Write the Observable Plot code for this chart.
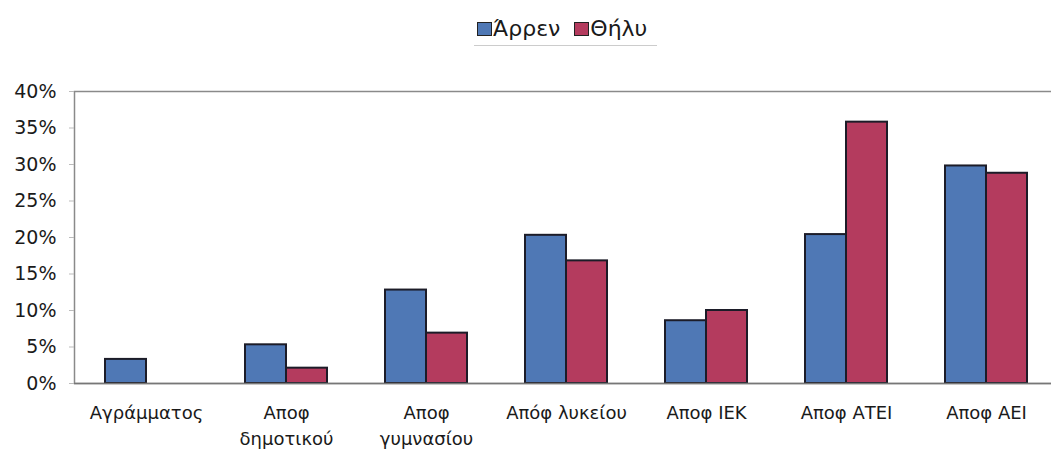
<!DOCTYPE html>
<html>
<head>
<meta charset="utf-8">
<script src="https://cdn.jsdelivr.net/npm/d3@7"></script>
<script src="https://cdn.jsdelivr.net/npm/@observablehq/plot@0.6"></script>
<style>
  html, body { margin: 0; padding: 0; background: #fff; }
  body { width: 1051px; height: 453px; overflow: hidden; font-family: "DejaVu Sans", sans-serif; }
  #legend { height: 55px; position: relative; }
  #legend .box { position: absolute; left: 474px; top: 14px; display: flex; align-items: center; font-size: 22px; color: #1a1a1a; padding: 2px 10px 4px 3px; border-bottom: 1px solid #ccc; }
  #legend .sw { display: inline-block; width: 15px; height: 14px; border: 1.5px solid #222; box-sizing: border-box; margin-right: 1px; }
  #legend .item { display: flex; align-items: center; margin-right: 14px; }
  #legend .item:last-child { margin-right: 0; }
</style>
</head>
<body>
<div id="legend"></div>
<div id="chart"></div>
<script>
// Education level categories (x axis), line breaks as in the labels
const categories = ["Αγράμματος", "Αποφ\nδημοτικού", "Αποφ\nγυμνασίου", "Απόφ λυκείου", "Αποφ ΙΕΚ", "Αποφ ΑΤΕΙ", "Αποφ ΑΕΙ"];
// Shares per sex, in percent
const male   = [3.3, 5.3, 12.8, 20.3, 8.6, 20.4, 29.8];
const female = [0.0, 2.1, 6.9, 16.8, 10.0, 35.8, 28.8];
const series = ["Άρρεν", "Θήλυ"];
const colors = ["#4f78b5", "#b43b5e"];
const yTicks = [0, 5, 10, 15, 20, 25, 30, 35, 40];

const rowsM = categories.map((c, i) => ({category: c, value: male[i] / 100}));
const rowsF = categories.map((c, i) => ({category: c, value: female[i] / 100}));

// Legend
const legend = document.getElementById("legend");
const box = document.createElement("div");
box.className = "box";
series.forEach((s, i) => {
  const it = document.createElement("span");
  it.className = "item";
  const sw = document.createElement("span");
  sw.className = "sw";
  sw.style.background = colors[i];
  it.appendChild(sw);
  it.appendChild(document.createTextNode(s));
  box.appendChild(it);
});
legend.appendChild(box);

// Bars of a group sit side by side: each takes half of the band
const half = 41;
const barStyle = {stroke: "#1c1c28", strokeWidth: 2};

const chart = Plot.plot({
  width: 1051,
  height: 398,
  marginLeft: 74,
  marginRight: -7,
  marginTop: 36,
  marginBottom: 70,
  style: {fontFamily: "DejaVu Sans, sans-serif", fontSize: "18px", color: "#1a1a1a", background: "#fff"},
  x: {domain: categories, paddingInner: 0.417, paddingOuter: 0.2085, label: null},
  y: {domain: [0, 0.4], label: null},
  marks: [
    Plot.frame({stroke: "#8a8a8a", strokeWidth: 1.5}),
    Plot.barY(rowsM, {x: "category", y: "value", fill: colors[0], insetRight: half, ...barStyle}),
    Plot.barY(rowsF.filter(d => d.value > 0), {x: "category", y: "value", fill: colors[1], insetLeft: half, ...barStyle}),
    Plot.ruleY([0], {stroke: "#777", strokeWidth: 1.5}),
    Plot.axisY({ticks: yTicks.map(t => t / 100), tickFormat: d => Math.round(d * 100) + "%", tickSize: 5, tickPadding: 13, stroke: "#bbb", fontSize: 19, label: null}),
    Plot.axisX({tickSize: 0, tickPadding: 18, lineHeight: 1.4, fontSize: 18, label: null})
  ]
});
document.getElementById("chart").appendChild(chart);
</script>
</body>
</html>
